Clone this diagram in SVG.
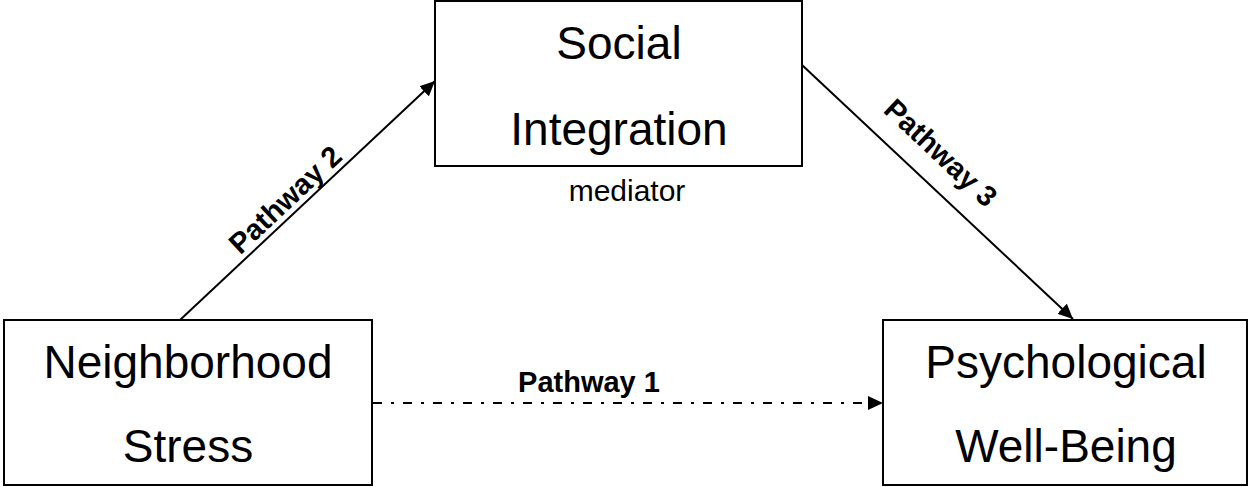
<svg xmlns="http://www.w3.org/2000/svg" width="1250" height="487" viewBox="0 0 1250 487">
<style>
.box{fill:#fff;stroke:#000;stroke-width:2}
.big{font-family:"Liberation Sans",Arial,sans-serif;font-size:46px;fill:#000;text-anchor:middle}
.small{font-family:"Liberation Sans",Arial,sans-serif;font-size:30px;fill:#000;text-anchor:middle}
.lbl{font-family:"Liberation Sans",Arial,sans-serif;font-size:29px;font-weight:bold;fill:#000;text-anchor:middle}
.edge{fill:none;stroke:#000;stroke-width:2}
</style>
<defs>
<marker id="arr" markerUnits="userSpaceOnUse" markerWidth="16" markerHeight="14" refX="15" refY="7" orient="auto">
<path d="M0,0 L15,7 L0,14 z" fill="#000"/>
</marker>
</defs>
<rect width="1250" height="487" fill="#fff"/>
<g id="connectors">
<line class="edge" x1="180" y1="320" x2="435" y2="81" marker-end="url(#arr)"/>
<line class="edge" x1="802" y1="65" x2="1073" y2="319" marker-end="url(#arr)"/>
<line class="edge" x1="373" y1="403" x2="883" y2="403" stroke-dasharray="9,9,3,9" marker-end="url(#arr)"/>
<text class="lbl" transform="translate(292,207) rotate(-43.1)">Pathway 2</text>
<text class="lbl" transform="translate(934,160) rotate(43.2)">Pathway 3</text>
<text class="lbl" x="589" y="392">Pathway 1</text>
</g>
<g id="node-neighborhood">
<rect class="box" x="4" y="320" width="368" height="165"/>
<text class="big" x="188" y="378">Neighborhood</text>
<text class="big" x="188" y="462">Stress</text>
</g>
<g id="node-social">
<rect class="box" x="435" y="1" width="367" height="165"/>
<text class="big" x="619" y="59">Social</text>
<text class="big" x="619" y="145">Integration</text>
<text class="small" x="627" y="201">mediator</text>
</g>
<g id="node-wellbeing">
<rect class="box" x="883" y="320" width="364" height="165"/>
<text class="big" x="1066" y="378">Psychological</text>
<text class="big" x="1066" y="462">Well-Being</text>
</g>
</svg>
